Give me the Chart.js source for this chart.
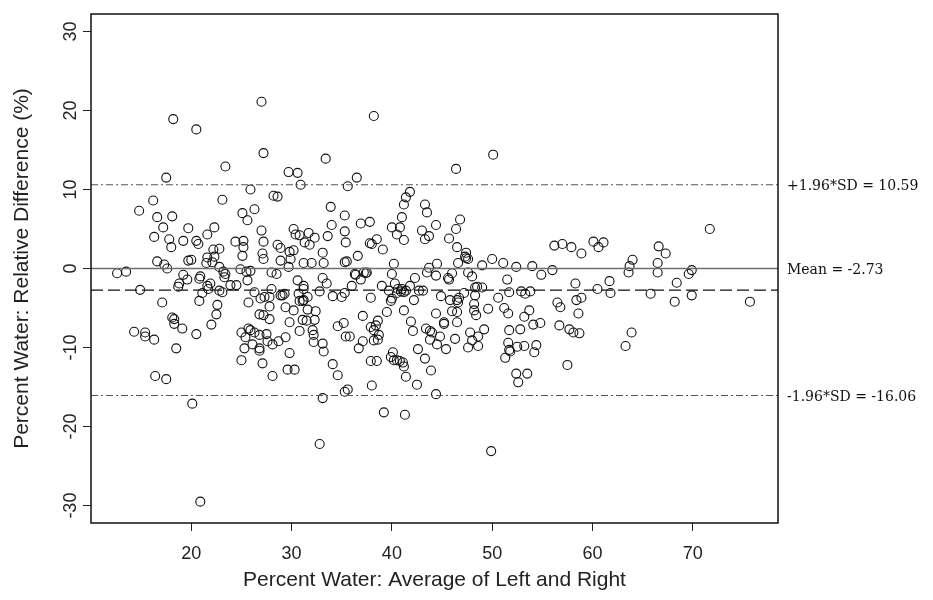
<!DOCTYPE html>
<html>
<head>
<meta charset="utf-8">
<script src="https://cdn.jsdelivr.net/npm/chart.js@4.4.1/dist/chart.umd.min.js"></script>
<style>
  html, body { margin: 0; padding: 0; background: #fff; }
</style>
</head>
<body>
<canvas id="chart" width="933" height="600"></canvas>
<script>
const waterAvg = [
  // zona 12-29
  27.0,18.2,20.5,27.2,23.4,17.5,25.9,23.1,16.2,28.2,
  28.6,14.8,26.3,16.6,18.1,25.1,25.6,17.2,19.7,22.3,
  21.6,27.0,16.3,17.8,19.2,20.5,20.7,18.0,24.4,25.2,
  25.2,27.2,22.2,22.8,25.1,27.1,27.2,16.6,17.3,17.6,
  19.7,20.0,21.6,21.5,22.1,22.3,22.8,23.2,23.4,24.9,
  25.5,25.9,25.6,12.6,13.5,19.2,20.9,20.8,18.8,18.7,
  19.6,21.9,21.6,21.7,21.1,22.8,23.1,23.3,23.9,24.5,
  26.3,25.7,26.9,27.3,27.8,28.0,27.8,28.9,14.9,17.1,
  20.8,22.6,22.5,22.0,18.1,18.3,18.3,19.1,14.3,15.4,
  15.4,16.3,18.5,20.5,26.8,27.2,27.8,25.0,25.7,25.9,
  25.4,26.3,26.8,27.5,25.3,26.1,26.8,26.8,27.6,28.1,
  28.7,25.0,27.1,28.1,16.4,17.5,20.1,20.9,
  // zona 28-45, sopra lo zero
  38.2,33.4,29.7,30.6,30.9,36.5,35.6,41.8,41.4,41.2,
  43.3,43.5,33.9,35.3,41.0,34.0,36.9,37.8,40.0,40.8,
  40.5,41.2,44.4,43.0,43.7,43.3,35.3,35.4,33.6,30.2,
  30.4,30.8,31.7,32.3,31.3,31.8,28.6,28.9,29.8,30.2,
  29.9,28.9,33.1,37.8,38.0,38.5,39.1,31.2,32.0,33.2,
  35.3,35.5,36.6,40.2,43.7,43.5,44.5,29.7,28.0,28.5,
  36.3,37.2,37.5,40.0,
  // zona 28-45, sotto lo zero
  30.6,31.2,31.2,29.3,29.1,33.1,33.5,32.8,34.1,30.7,
  30.8,31.1,31.2,31.6,29.4,30.2,31.6,32.4,29.8,31.1,
  31.5,32.3,35.0,35.3,36.0,36.4,36.9,37.4,37.9,30.8,
  32.1,32.2,32.2,33.1,33.2,29.4,29.8,29.6,30.3,34.6,
  35.2,35.4,35.8,34.1,34.6,35.3,35.6,33.1,32.8,37.1,
  36.7,37.1,37.9,38.2,38.4,38.6,38.2,38.6,38.7,37.9,
  38.5,38.0,39.2,39.0,39.5,39.9,40.0,39.7,40.3,40.6,
  40.5,40.9,41.0,41.2,41.4,41.2,40.1,39.9,40.2,40.5,
  40.8,41.1,41.2,41.4,41.3,41.8,42.3,42.2,42.7,43.1,
  41.9,42.1,42.6,43.3,42.5,43.9,43.4,43.8,44.0,43.8,
  44.4,44.5,44.4,
  // zona 44-72, sopra lo zero
  50.1,46.4,46.8,46.4,45.7,46.5,47.4,47.4,47.3,47.6,
  46.6,46.0,44.4,45.6,45.7,47.6,48.0,49.0,50.0,51.1,
  52.4,54.0,54.9,56.0,56.2,57.0,57.9,58.9,60.1,60.6,
  61.1,71.7,66.6,67.3,66.5,66.5,64.0,63.7,63.6,69.9,
  69.6,
  // zona 44-76, sotto lo zero
  60.5,61.7,61.8,65.8,68.4,68.2,69.9,75.7,63.9,63.3,
  51.5,58.3,44.9,45.8,46.5,46.7,46.6,47.2,48.3,48.5,
  49.0,48.3,48.2,48.2,48.4,46.0,46.5,45.2,45.2,46.5,
  49.6,50.6,51.2,51.6,51.7,52.9,53.3,53.8,53.7,53.2,
  44.8,45.4,46.3,47.8,48.0,48.6,48.6,47.6,49.2,51.7,
  52.8,54.1,54.8,51.6,52.5,53.2,54.4,54.2,51.8,51.7,
  51.3,52.4,53.5,52.6,49.9,56.5,56.8,58.4,58.9,58.6,
  56.7,57.7,58.1,58.7,57.5
];
const relDiff = [
  21.1,18.9,17.6,14.6,12.9,11.5,10.0,8.7,8.6,9.2,
  9.1,7.3,7.5,6.5,6.6,7.0,6.1,5.2,5.1,5.2,
  4.3,4.8,4.0,3.7,3.5,3.5,3.1,2.7,3.4,3.5,
  2.7,3.4,2.4,2.5,1.6,1.9,1.2,0.9,0.5,0.0,
  1.0,1.1,1.4,0.7,0.8,1.5,0.2,-0.4,-0.7,-0.1,
  -0.4,-0.3,-1.5,-0.6,-0.4,-0.8,-1.0,-1.3,-1.9,-2.3,
  -1.4,-1.9,-2.2,-2.6,-3.1,-2.8,-3.0,-1.1,-2.1,-2.1,
  -3.0,-4.3,-3.8,-3.6,-3.6,-2.6,-4.8,-3.4,-2.7,-4.3,
  -4.1,-4.6,-5.8,-7.1,-6.2,-6.4,-7.0,-7.6,-8.0,-8.1,
  -8.6,-9.0,-10.1,-8.3,-5.8,-5.9,-6.4,-8.1,-7.6,-7.8,
  -8.7,-8.1,-8.4,-8.3,-10.1,-9.6,-10.1,-10.4,-9.2,-9.6,
  -9.2,-11.6,-12.0,-13.6,-13.6,-14.0,-17.1,-29.5,

  19.3,13.9,12.2,12.1,10.6,11.5,10.4,9.7,9.0,8.1,
  8.1,7.1,7.8,6.7,6.5,5.5,5.7,5.9,5.2,5.2,
  4.3,3.6,5.5,4.8,4.1,3.7,4.7,3.3,4.1,5.0,
  4.3,4.2,4.5,3.9,3.3,3.0,3.0,2.6,2.1,2.3,
  1.2,1.0,2.0,3.2,3.1,3.7,2.4,0.7,0.7,0.7,
  0.8,0.9,1.6,0.6,0.1,-0.5,0.6,0.2,-0.5,-0.7,
  -0.7,-0.5,-0.5,-0.7,

  -1.5,-2.2,-2.6,-3.2,-3.4,-1.2,-1.9,-2.9,-3.5,-3.2,
  -4.1,-4.1,-4.0,-3.6,-4.9,-5.3,-5.2,-5.4,-6.8,-6.5,
  -6.6,-6.5,-3.6,-3.1,-2.2,-0.8,-1.4,-0.6,-3.7,-7.9,
  -7.8,-8.4,-9.3,-9.5,-10.5,-8.7,-10.7,-12.8,-12.8,-7.3,
  -6.9,-8.6,-8.6,-12.1,-13.5,-15.6,-15.3,-16.4,-22.2,-6.0,
  -10.1,-9.2,-7.4,-7.8,-7.2,-6.6,-9.1,-9.0,-8.4,-11.7,
  -11.7,-14.8,-18.2,-2.2,-5.5,-4.1,-3.8,-2.8,-1.9,-2.6,
  -3.1,-2.9,-2.6,-3.0,-2.8,-5.3,-10.6,-11.2,-11.6,-11.6,
  -11.7,-11.9,-12.4,-13.7,-18.5,-2.2,-1.2,-4.0,-2.8,-2.8,
  -6.7,-7.9,-10.2,-11.4,-14.7,-12.9,-7.6,-7.9,-8.1,-9.0,
  -5.7,-9.6,-15.9,

  14.4,12.6,6.2,5.0,3.8,2.7,2.0,1.3,1.5,1.2,
  0.7,-0.6,-0.9,-1.2,-1.4,-0.5,-1.0,0.4,1.2,0.7,
  0.2,0.3,-0.8,-0.2,2.9,3.1,2.7,1.9,3.4,2.7,
  3.3,5.0,2.8,1.9,0.7,-0.5,1.1,0.3,-0.5,-0.2,
  -0.7,

  -2.6,-1.6,-3.1,-3.2,-1.8,-4.2,-3.4,-4.2,-8.1,-9.8,
  -1.4,-1.9,-3.5,-4.0,-4.0,-3.7,-4.3,-3.1,-2.4,-2.3,
  -2.4,-3.4,-4.5,-5.3,-5.9,-5.4,-5.5,-6.8,-7.0,-6.8,
  -5.1,-3.7,-5.0,-5.7,-3.0,-2.9,-3.2,-2.9,-5.3,-6.1,
  -8.6,-10.2,-8.9,-8.1,-9.1,-8.6,-9.8,-10.0,-7.7,-7.8,
  -7.7,-7.1,-6.9,-9.4,-9.9,-9.8,-9.7,-10.6,-10.5,-10.3,
  -11.3,-13.3,-13.3,-14.4,-23.1,-4.3,-4.9,-4.0,-3.7,-5.7,
  -7.2,-7.7,-8.1,-8.2,-12.2
];

const xBounds = [10, 78.5];
const yBounds = [-32.2, 32.2];
const xTicks = [20, 30, 40, 50, 60, 70];
const yTicks = [-30, -20, -10, 0, 10, 20, 30];

// linee di riferimento (Bland-Altman)
const zeroLine = 0;
const meanDiff = -2.73;
const upperLoA = 10.59;
const lowerLoA = -16.06;

const refLabels = [
  { text: '+1.96*SD = ' + upperLoA.toFixed(2), at: upperLoA },
  { text: 'Mean = ' + meanDiff.toFixed(2), at: zeroLine }, // nel grafico sta sulla riga dello zero
  { text: '-1.96*SD = ' + lowerLoA.toFixed(2), at: lowerLoA }
];

const points = waterAvg.map((x, i) => ({ x: x, y: relDiff[i] }));
const hLine = v => xBounds.map(x => ({ x: x, y: v }));

function refLine(v, color, width, dash) {
  return {
    type: 'line',
    data: hLine(v),
    borderColor: color,
    borderWidth: width,
    borderDash: dash,
    pointRadius: 0,
    fill: false
  };
}

// cornice intorno all'area del grafico + etichette a destra
const extras = {
  id: 'extras',
  afterDraw(chart) {
    const { ctx, chartArea: a, scales: { y } } = chart;
    ctx.save();
    ctx.strokeStyle = '#111';
    ctx.lineWidth = 1.5;
    ctx.strokeRect(a.left, a.top, a.right - a.left, a.bottom - a.top);
    ctx.fillStyle = '#111';
    ctx.font = '14px "DejaVu Serif"';
    ctx.textBaseline = 'middle';
    ctx.textAlign = 'left';
    refLabels.forEach(l => {
      ctx.fillText(l.text, a.right + 9, y.getPixelForValue(l.at) + 2);
    });
    ctx.restore();
  }
};

const axisFont = { family: '"Liberation Sans", Arial, sans-serif', size: 18 };
const titleFont = { family: '"Liberation Sans", Arial, sans-serif', size: 21 };
const gridOpt = { drawOnChartArea: false, drawTicks: true, tickLength: 8, color: '#222', tickColor: '#222', tickWidth: 1 };

new Chart(document.getElementById('chart'), {
  type: 'scatter',
  data: {
    datasets: [
      refLine(zeroLine, '#6e6e6e', 1.4, []),
      refLine(meanDiff, '#111', 1.2, [12, 5]),
      refLine(upperLoA, '#555', 1.1, [7, 3, 2, 3]),
      refLine(lowerLoA, '#555', 1.1, [7, 3, 2, 3]),
      {
        data: points,
        pointRadius: 4.5,
        pointBorderWidth: 1.1,
        pointBorderColor: '#111',
        pointBackgroundColor: 'rgba(0,0,0,0)',
        showLine: false
      }
    ]
  },
  options: {
    responsive: false,
    animation: false,
    events: [],
    layout: { padding: { left: 0, right: 155, top: 14, bottom: 0 } },
    plugins: { legend: { display: false }, tooltip: { enabled: false } },
    scales: {
      x: {
        type: 'linear',
        min: xBounds[0],
        max: xBounds[1],
        afterBuildTicks: s => { s.ticks = xTicks.map(v => ({ value: v })); },
        afterFit: s => { s.height = 77; },
        grid: gridOpt,
        border: { display: false },
        ticks: { color: '#222', font: axisFont, padding: 12, maxRotation: 0 },
        title: {
          display: true,
          text: 'Percent Water: Average of Left and Right',
          color: '#222',
          font: titleFont,
          padding: { top: 0, bottom: 7 }
        }
      },
      y: {
        type: 'linear',
        min: yBounds[0],
        max: yBounds[1],
        afterBuildTicks: s => { s.ticks = yTicks.map(v => ({ value: v })); },
        afterFit: s => { s.width = 91; },
        grid: gridOpt,
        border: { display: false },
        ticks: { color: '#222', font: axisFont, padding: -1, minRotation: 90, maxRotation: 90, crossAlign: 'center' },
        title: {
          display: true,
          text: 'Percent Water: Relative Difference (%)',
          color: '#222',
          font: titleFont,
          padding: { top: 10, bottom: 0 }
        }
      }
    }
  },
  plugins: [extras]
});
</script>
</body>
</html>
